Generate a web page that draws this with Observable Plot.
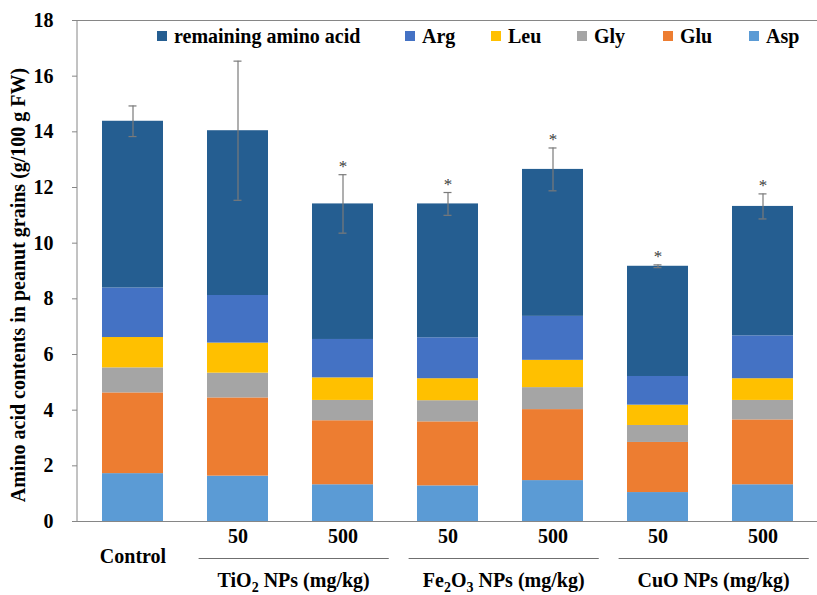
<!DOCTYPE html>
<html>
<head>
<meta charset="utf-8">
<script src="https://cdn.jsdelivr.net/npm/d3@7"></script>
<script src="https://cdn.jsdelivr.net/npm/@observablehq/plot@0.6"></script>
<style>
  body { margin: 0; background: #fff; }
  #wrap { position: relative; width: 817px; height: 595px; font-family: "Liberation Serif", Tinos, "Times New Roman", Times, "DejaVu Serif", serif; font-weight: bold; }
  #legend { position: absolute; left: 157px; top: 24px; height: 24px; display: flex; align-items: center; font-size: 20px; color: #000; z-index: 2; }
  .item { display: flex; align-items: center; white-space: nowrap; }
  .sw { width: 10px; height: 10px; margin-right: 7px; flex: none; }
  svg text { font-family: "Liberation Serif", Tinos, "Times New Roman", Times, "DejaVu Serif", serif; }
</style>
</head>
<body>
<div id="wrap"><div id="legend"></div></div>
<script>
// ---- data ----
const categories = ["Control", "TiO2-50", "TiO2-500", "Fe2O3-50", "Fe2O3-500", "CuO-50", "CuO-500"];
const tickLabels = ["Control", "50", "500", "50", "500", "50", "500"];
const asp       = [1.72, 1.63, 1.32, 1.28, 1.47, 1.04, 1.32];
const glu       = [2.90, 2.81, 2.30, 2.30, 2.55, 1.80, 2.33];
const gly       = [0.90, 0.89, 0.73, 0.76, 0.79, 0.61, 0.70];
const leu       = [1.09, 1.08, 0.81, 0.79, 0.98, 0.73, 0.78];
const arg       = [1.78, 1.71, 1.38, 1.47, 1.58, 1.03, 1.54];
const remaining = [5.99, 5.92, 4.87, 4.81, 5.28, 3.96, 4.65];
const errors      = [0.55, 2.50, 1.05, 0.41, 0.77, 0.05, 0.45];
const significant = [false, false, true, true, true, true, true];
const seriesNames  = ["Asp", "Glu", "Gly", "Leu", "Arg", "remaining amino acid"];
const seriesColors = ["#5b9bd5", "#ed7d31", "#a5a5a5", "#ffc000", "#4472c4", "#255e91"];
const legendOrder  = ["remaining amino acid", "Arg", "Leu", "Gly", "Glu", "Asp"];
const groupLabels = ["TiO2 NPs (mg/kg)", "Fe2O3 NPs (mg/kg)", "CuO NPs (mg/kg)"];
const groupFrom   = ["TiO2-50", "Fe2O3-50", "CuO-50"];
const groupTo     = ["TiO2-500", "Fe2O3-500", "CuO-500"];
const yTicks = [0, 2, 4, 6, 8, 10, 12, 14, 16, 18];
const yLabel = "Amino acid contents in peanut grains (g/100 g FW)";

// ---- derived tables ----
const seriesValues = [asp, glu, gly, leu, arg, remaining];
const rows = seriesNames.flatMap((s, si) =>
  categories.map((c, ci) => ({category: c, series: s, value: seriesValues[si][ci]})));
const totals = categories.map((c, i) => d3.sum(seriesValues, v => v[i]));
const errRows = categories.map((c, i) => ({category: c, total: totals[i], err: errors[i], sig: significant[i]}));
const labelOf = Object.fromEntries(categories.map((c, i) => [c, tickLabels[i]]));

const axisGray = "#868686";
const serif = '"Liberation Serif", Tinos, "Times New Roman", Times, "DejaVu Serif", serif';

function annotations(index, scales, values, dimensions) {
  const x = scales.x, y = scales.y;
  const bw = x.bandwidth(), step = x.step();
  const g = d3.create("svg:g");
  const [y0, y1] = y.domain();
  g.append("line")
    .attr("x1", dimensions.marginLeft).attr("x2", dimensions.marginLeft)
    .attr("y1", y(y0)).attr("y2", y(y1))
    .attr("stroke", axisGray);
  const base = y(y0);
  groupLabels.forEach((label, i) => {
    const xa = x(groupFrom[i]) - 0.08 * step;
    const xb = Math.min(dimensions.width, x(groupTo[i]) + bw + 0.15 * step);
    g.append("line")
      .attr("x1", xa).attr("x2", xb)
      .attr("y1", base + 37.5).attr("y2", base + 37.5)
      .attr("stroke", "#6f6f6f").attr("stroke-width", 1.2);
    const t = g.append("text")
      .attr("x", (xa + xb) / 2).attr("y", base + 59)
      .attr("dy", "0.35em")
      .attr("text-anchor", "middle")
      .attr("font-family", serif)
      .attr("font-size", 20).attr("font-weight", "bold")
      .attr("fill", "#000");
    const parts = label.split(/(\d)/).filter(p => p !== "");
    let sub = false;
    parts.forEach(p => {
      const isDigit = /^\d$/.test(p);
      const ts = t.append("tspan").text(p);
      if (isDigit && !sub) { ts.attr("dy", 5).attr("font-size", 14); sub = true; }
      else if (isDigit && sub) { ts.attr("font-size", 14); }
      else if (!isDigit && sub) { ts.attr("dy", -5); sub = false; }
    });
  });
  return g.node();
}

const chart = Plot.plot({
  width: 817,
  height: 595,
  marginLeft: 77,
  marginRight: 0,
  marginTop: 20,
  marginBottom: 74,
  style: {fontFamily: serif, fontWeight: "bold", fontSize: "20px", background: "white", color: "#000"},
  x: {domain: categories, paddingInner: 0.42, paddingOuter: 0.21, axis: null},
  y: {domain: [0, 18], axis: null},
  color: {domain: seriesNames, range: seriesColors},
  marks: [
    Plot.barY(rows, {x: "category", y: "value", fill: "series", order: seriesNames}),
    Plot.ruleY([0], {stroke: axisGray}),
    Plot.ruleY([18], {stroke: axisGray}),
    Plot.axisY(yTicks, {tickSize: 5, tickPadding: 19, stroke: axisGray, fill: "#000", fontSize: 20, label: null}),
    Plot.ruleX(errRows, {x: "category", y1: d => d.total - d.err, y2: d => d.total + d.err, stroke: "#7a7a7a", strokeWidth: 1.2}),
    Plot.tickY(errRows, {x: "category", y: d => d.total + d.err, stroke: "#7a7a7a", strokeWidth: 1.2, insetLeft: 26.5, insetRight: 26.5}),
    Plot.tickY(errRows, {x: "category", y: d => d.total - d.err, stroke: "#7a7a7a", strokeWidth: 1.2, insetLeft: 26.5, insetRight: 26.5}),
    Plot.text(errRows.filter(d => d.sig), {x: "category", y: d => d.total + d.err, text: () => "*", dy: -8, fontSize: 17, fontWeight: "normal", fill: "#404040"}),
    Plot.text(categories.filter(c => c !== "Control"), {x: d => d, text: d => labelOf[d], frameAnchor: "bottom", dy: 21, fontSize: 20}),
    Plot.text(categories.filter(c => c === "Control"), {x: d => d, text: d => labelOf[d], frameAnchor: "bottom", dy: 41, fontSize: 20}),
    Plot.text([yLabel], {frameAnchor: "left", textAnchor: "middle", rotate: -90, dx: -59, dy: 14, fontSize: 20}),
    annotations
  ]
});

document.getElementById("wrap").appendChild(chart);

const legend = document.getElementById("legend");
legendOrder.forEach((name, i) => {
  const item = document.createElement("div");
  item.className = "item";
  item.style.width = i === 0 ? "248px" : "86px";
  const sw = document.createElement("span");
  sw.className = "sw";
  sw.style.background = seriesColors[seriesNames.indexOf(name)];
  const tx = document.createElement("span");
  tx.textContent = name;
  item.appendChild(sw);
  item.appendChild(tx);
  legend.appendChild(item);
});
</script>
</body>
</html>
